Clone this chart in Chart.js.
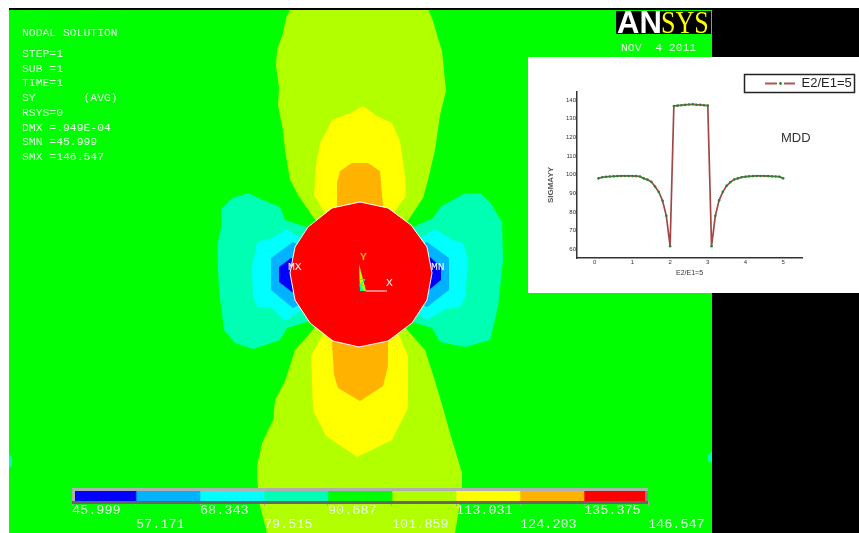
<!DOCTYPE html>
<html><head><meta charset="utf-8">
<style>
html,body{margin:0;padding:0;background:#fff;overflow:hidden}
#stage{position:relative;width:859px;height:533px;overflow:hidden}
#panel{position:absolute;left:9px;top:8px;width:850px;height:525px;background:#000}
#field{position:absolute;left:9px;top:10px;background:#00ff00}
#bar{position:absolute;left:0;top:480px}
#inset{position:absolute;left:528px;top:57px;background:#fff;filter:blur(.4px)}
</style>
<script src="https://cdn.jsdelivr.net/npm/chart.js@4"></script>
</head><body>
<div id="stage">
<div id="panel"></div>
<canvas id="field" width="703" height="523"></canvas>
<canvas id="bar" width="712" height="53"></canvas>
<canvas id="inset" width="331" height="236"></canvas>
</div>
<script>
// ---- contour legend ----
const levels = [45.999,57.171,68.343,79.515,90.687,101.859,113.031,124.203,135.375,146.547];
const bandColors = ['#0000ff','#00b2ff','#00ffff','#00ffb2','#00ff00','#b2ff00','#ffff00','#ffb200','#ff0000'];
// ---- contour outlines, model coordinates relative to the hole centre ----
const limeTop = [[-67,270],[-74,256],[-77,241],[-83,224],[-84,208],[-81,186],[-82,169],[-77,143],[-75,124],[-70,94],[-62,79],[-47,57],[0,0],[47,52],[63,76],[68,94],[75,124],[80,159],[86,183],[84,203],[82,223],[77,239],[73,253],[66,270]];
const yellowTop = [[3,168],[-10,161],[-28,154],[-40,131],[-44,109],[-46,79],[-40,69],[0,0],[37,66],[46,78],[45,99],[40,133],[32,151],[17,158]];
const orangeTop = [[-8,111],[-20,103],[-23,91],[-23,68],[0,0],[23,69],[20,103],[8,111]];
const limeBottom = [[-50,-59],[-65,-76],[-75,-107],[-85,-126],[-87,-146],[-98,-169],[-103,-192],[-103,-206],[-100,-232],[-93,-259],[-90,-270],[92,-270],[95,-259],[102,-216],[102,-199],[90,-159],[83,-134],[75,-107],[65,-76],[50,-59],[0,0]];
const yellowBottom = [[-38,-62],[-49,-82],[-47,-136],[-34,-162],[-3,-183],[32,-166],[48,-134],[48,-82],[38,-59],[0,0]];
const orangeBottom = [[-28,-69],[-26,-101],[-22,-114],[0,-127],[23,-112],[28,-92],[28,-67],[0,0]];
const aquaLeft = [[-112,81],[-128,76],[-139,65],[-139,47],[-143,27],[-141,-16],[-136,-56],[-125,-69],[-107,-75],[-80,-66],[-73,-54],[-53,-48],[0,0],[-53,47],[-75,54],[-80,67],[-97,74]];
const cyanLeft = [[-74,45],[-88,36],[-103,32],[-108,7],[-107,-23],[-102,-33],[-88,-34],[-75,-47],[0,0]];
const skyLeft = [[-67,32],[-89,16],[-89,-16],[-67,-34],[0,0]];
const blueLeft = [[-69,16],[-81,7],[-81,-8],[-68,-18],[0,0]];
const aquaRight = [[105,81],[120,81],[130,72],[142,52],[143,14],[138,-33],[130,-66],[105,-73],[80,-68],[72,-54],[53,-48],[0,0],[53,47],[73,56],[80,67]];
const cyanRight = [[75,45],[93,34],[103,31],[108,14],[105,-23],[100,-33],[85,-35],[67,-46],[0,0]];
const skyRight = [[67,32],[89,16],[89,-16],[67,-33],[0,0]];
const blueRight = [[70,17],[81,7],[81,-6],[69,-16],[0,0]];
const aquaEdgeLeft = [[-355,-173],[-348,-184],[-348,-191],[-355,-198]];
const aquaEdgeRight = [[356,-173],[348,-181],[348,-187],[356,-191]];
const holeOutline = [[0,72],[-28,66],[-52,47],[-65,27],[-70,1],[-65,-26],[-50,-49],[-27,-67],[-1,-73],[28,-67],[52,-49],[67,-26],[72,1],[67,27],[51,49],[28,66]];
const triadStem = [[-1,10],[0,-17],[6,-17]];
const triadBase = [[0,-11],[0,-17],[4,-17]];
const triadX = [[6,-17],[27,-17]];
// ---- annotation text ----
const infoLines = ['STEP=1','SUB =1','TIME=1','SY       (AVG)','RSYS=0','DMX =.949E-04','SMN =45.999','SMX =146.547'];
// ---- inset line chart ----
const insetX = [0.1,0.2,0.3,0.4,0.5,0.6,0.7,0.8,0.9,1.0,1.1,1.2,1.3,1.4,1.5,1.6,1.7,1.8,1.9,2.0,2.1,2.2,2.3,2.4,2.5,2.6,2.7,2.8,2.9,3.0,3.1,3.2,3.3,3.4,3.5,3.6,3.7,3.8,3.9,4.0,4.1,4.2,4.3,4.4,4.5,4.6,4.7,4.8,4.9,5.0];
const sigmaY = [98.0,98.6,98.8,99.0,99.1,99.2,99.3,99.3,99.3,99.3,99.2,99.0,98.0,97.3,96.2,93.6,90.7,86.0,77.9,61.6,136.8,137.0,137.2,137.4,137.6,137.7,137.5,137.4,137.2,137.0,61.6,77.9,86.2,90.8,94.0,96.0,97.4,98.0,98.6,98.9,99.1,99.2,99.3,99.3,99.3,99.2,99.1,99.0,98.9,98.0];
const sigmaTicks = [60,70,80,90,100,110,120,130,140];
const ratioTicks = [0,1,2,3,4,5];

const mono = 'Liberation Mono';
const pale = '#e4ffe4';
const pairs = a => a.map(p => ({x:p[0], y:p[1]}));
const region = (pts,color,extra) => Object.assign({data:pairs(pts),showLine:true,fill:'shape',backgroundColor:color,borderColor:color,borderWidth:0,pointRadius:0,tension:0},extra||{});

const paintOrder = [
  region(aquaEdgeLeft,bandColors[3]), region(aquaEdgeRight,bandColors[3]),
  region(limeTop,bandColors[5]), region(limeBottom,bandColors[5]),
  region(yellowTop,bandColors[6]), region(yellowBottom,bandColors[6]),
  region(orangeTop,bandColors[7]), region(orangeBottom,bandColors[7]),
  region(aquaLeft,bandColors[3]), region(aquaRight,bandColors[3]),
  region(cyanLeft,bandColors[2]), region(cyanRight,bandColors[2]),
  region(skyLeft,bandColors[1]), region(skyRight,bandColors[1]),
  region(blueLeft,bandColors[0]), region(blueRight,bandColors[0]),
  region(holeOutline.concat([holeOutline[0]]),bandColors[8],{borderColor:'#ffffff',borderWidth:1}),
  region(triadStem,bandColors[5]), region(triadBase,bandColors[3]),
  {data:pairs(triadX),showLine:true,borderColor:'#ffffff',borderWidth:1,pointRadius:0,fill:false}
];
paintOrder.forEach((d,i)=>{d.order = paintOrder.length - i;});

const fieldText = {
  id:'fieldText',
  afterDatasetsDraw(c){
    const g=c.ctx; const ox=9, oy=10;
    const put=(t,x,y,col,font,al)=>{g.fillStyle=col;g.font=font;g.textAlign=al||'left';g.textBaseline='middle';g.fillText(t,x-ox,y-oy);};
    g.save();
    const f=`11.4px "${mono}"`;
    put('NODAL SOLUTION',22,33,pale,f);
    infoLines.forEach((t,i)=>put(t,22,54+i*14.7,pale,f));
    put('NOV  4 2011',621,48,pale,f);
    put('MX',288,267,'#ffffff',f); put('MN',431,267,'#ffffff',f);
    put('Y',360,257,'#ffb200','bold 11.4px "'+mono+'"'); put('Z',359,283,'#00ffb2',f); put('X',386,283,'#ffffff',f);
    g.fillStyle='#000'; g.fillRect(616-ox,11-oy,95,23);
    g.textBaseline='alphabetic'; g.textAlign='left';
    g.fillStyle='#ffffff'; g.font='bold 31px "Liberation Sans"'; g.fillText('AN',617-ox,33-oy);
    g.translate(661-ox,33-oy); g.scale(0.84,1);
    g.fillStyle='#ffff00'; g.font='31px "Liberation Serif"';
    g.fillText('SYS',0,0);
    g.restore();
  }
};

new Chart(document.getElementById('field'),{
  type:'scatter',
  data:{datasets:paintOrder},
  plugins:[fieldText],
  options:{responsive:false,animation:false,
    layout:{padding:0},
    plugins:{legend:{display:false},tooltip:{enabled:false}},
    scales:{x:{type:'linear',display:false,min:-351,max:352},y:{type:'linear',display:false,min:-259,max:264}}}
});

const barFrame = {
  id:'barFrame',
  afterDatasetsDraw(c){
    const {left:l,right:r,top:t,bottom:b}=c.chartArea; const g=c.ctx;
    g.save();
    g.fillStyle='#b0b0b0'; g.fillRect(l,t-3,r-l,3); g.fillRect(l,t,3,b-t);
    g.fillStyle='#888888'; g.fillRect(r-3,t,3,b-t);
    g.fillStyle='#666666'; g.fillRect(l,b,r-l,3);
    g.restore();
  }
};
new Chart(document.getElementById('bar'),{
  type:'bar',
  data:{labels:['SY'],datasets:bandColors.map((col,i)=>({data:[[levels[i],levels[i+1]]],backgroundColor:col,barPercentage:1,categoryPercentage:1,grouped:false,borderWidth:0}))},
  plugins:[barFrame],
  options:{indexAxis:'y',responsive:false,animation:false,
    layout:{padding:{left:72,right:64,top:11,bottom:0}},
    plugins:{legend:{display:false},tooltip:{enabled:false}},
    scales:{
      y:{display:false},
      x:{type:'linear',min:levels[0],max:levels[levels.length-1],
        afterBuildTicks:s=>{s.ticks=levels.map(v=>({value:v}));},
        afterFit:s=>{s.height=32;},
        border:{display:false},
        grid:{drawOnChartArea:false,tickLength:5,color:'#a8a8a8'},
        ticks:{autoSkip:false,maxRotation:0,minRotation:0,align:'start',padding:-3,color:pale,
          font:{family:mono,size:13.5,lineHeight:14/13.5},
          callback:(v,i)=>i%2?['',Number(v).toFixed(3)]:[Number(v).toFixed(3),'']}
      }
    }}
});

// legend marker: line, dot, line
const marker=document.createElement('canvas'); marker.width=30; marker.height=5;
{const m=marker.getContext('2d');
 m.fillStyle='#a85858'; m.fillRect(0,1.5,12,2); m.fillRect(19,1.5,11,2);
 m.fillStyle='#2a8a3a'; m.beginPath(); m.arc(15.5,2.5,1.4,0,7); m.fill();}

const insetExtras = {
  id:'insetExtras',
  afterLayout(c){
    const L=c.legend; L.left=234; L.right=327; L.top=17; L.bottom=35; L.width=93; L.height=18;
  },
  afterDraw(c){
    const g=c.ctx; g.save();
    g.strokeStyle='#222'; g.lineWidth=1.5; g.strokeRect(216.5,17.5,110,18);
    g.fillStyle='#333'; g.font='13px "Liberation Sans"'; g.textAlign='left'; g.textBaseline='middle';
    g.fillText('MDD',253,81);
    g.restore();
  }
};
new Chart(document.getElementById('inset'),{
  type:'line',
  data:{datasets:[{label:'E2/E1=5',data:insetX.map((x,i)=>({x:x,y:sigmaY[i]})),borderColor:'#a04848',borderWidth:1.7,tension:0,pointRadius:1.3,pointBackgroundColor:'#1f8a33',pointBorderWidth:0}]},
  plugins:[insetExtras],
  options:{responsive:false,animation:false,
    layout:{padding:{left:0,right:57,top:35,bottom:0}},
    plugins:{tooltip:{enabled:false},
      legend:{position:'chartArea',align:'start',labels:{usePointStyle:true,pointStyle:marker,pointStyleWidth:30,padding:3,color:'#222',font:{family:'Liberation Sans',size:13}}}},
    scales:{
      x:{type:'linear',min:-0.47,max:5.5,
        afterBuildTicks:s=>{s.ticks=ratioTicks.map(v=>({value:v}));},
        afterFit:s=>{s.height=35;},
        grid:{display:false,drawTicks:false},border:{color:'#333',width:1.5},
        ticks:{color:'#333',padding:1,font:{family:'Liberation Sans',size:6}},
        title:{display:true,text:'E2/E1=5',color:'#333',padding:{top:0,bottom:16},font:{family:'Liberation Sans',size:7}}},
      y:{type:'linear',min:55.3,max:144.3,
        afterBuildTicks:s=>{s.ticks=sigmaTicks.map(v=>({value:v}));},
        afterFit:s=>{
          s.width=49;
          if(!s.titleShifted){
            s.titleShifted=true;
            const draw=s.drawTitle.bind(s);
            s.drawTitle=()=>{s.bottom+=20;draw();s.bottom-=20;};
          }
        },
        grid:{display:false,drawTicks:false},border:{color:'#333',width:1.5},
        ticks:{color:'#333',padding:1,font:{family:'Liberation Sans',size:6}},
        title:{display:true,text:'SIGMAYY',color:'#555',padding:{top:18,bottom:0},font:{family:'Liberation Sans',size:8,weight:'bold'}}}
    }}
});
</script>
</body></html>
